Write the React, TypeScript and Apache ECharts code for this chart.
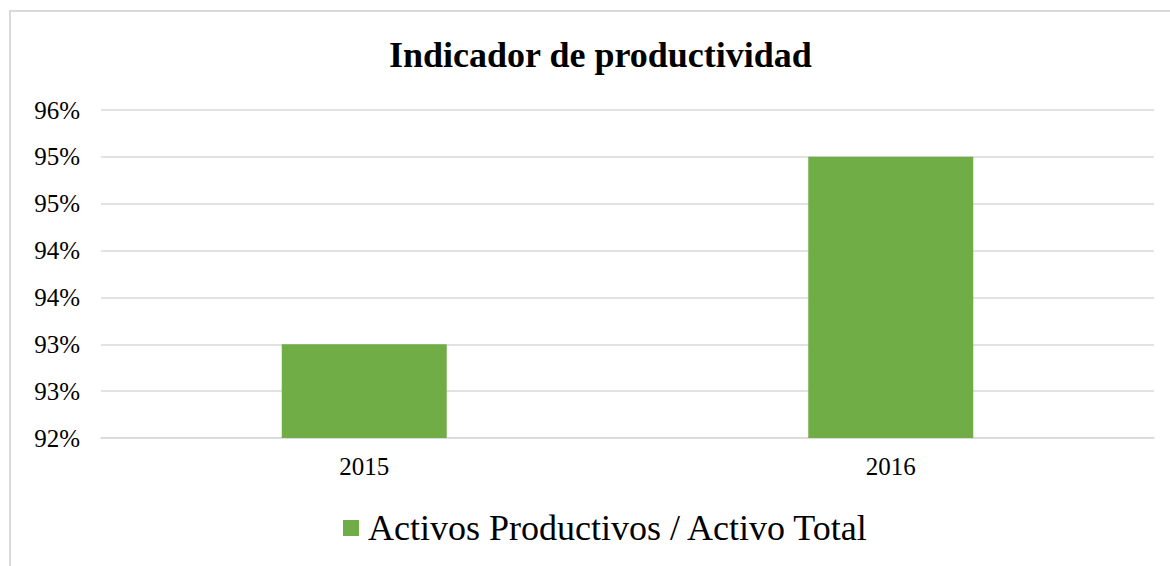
import React, { useEffect, useRef } from "react";
import * as echarts from "echarts";

const categories = ["2015", "2016"];
const seriesName = "Activos Productivos / Activo Total";
const values = [93.0, 95.0];
const yMin = 92;
const yMax = 95.5;
const yInterval = 0.5;
const title = "Indicador de productividad";

export default function App() {
  const ref = useRef<HTMLDivElement>(null);
  useEffect(() => {
    if (!ref.current) return;
    const chart = echarts.init(ref.current, null, { renderer: "svg" });
    const serif = "'Liberation Serif', 'Times New Roman', serif";
    chart.setOption({
      animation: false,
      backgroundColor: "#ffffff",
      title: {
        text: title,
        left: 384,
        top: 32,
        textStyle: { fontFamily: serif, fontWeight: "bold", fontSize: 36, color: "#000" },
      },
      graphic: [
        {
          type: "rect",
          shape: { x: 10, y: 11, width: 1200, height: 600 },
          style: { fill: "none", stroke: "#d9d9d9", lineWidth: 2 },
          silent: true,
        },
      ],
      grid: { left: 101, right: 16, top: 110, bottom: 128 },
      legend: {
        data: [seriesName],
        top: 505,
        left: 338,
        icon: "rect",
        itemWidth: 16,
        itemHeight: 16,
        itemGap: 8,
        textStyle: { fontFamily: serif, fontSize: 36, color: "#000", padding: [0, 0, 0, 4] },
      },
      xAxis: {
        type: "category",
        data: categories,
        axisTick: { show: false },
        axisLine: { show: true, lineStyle: { color: "#d9d9d9", width: 1.5 } },
        axisLabel: { fontFamily: serif, fontSize: 25, color: "#000", margin: 16 },
      },
      yAxis: {
        type: "value",
        min: yMin,
        max: yMax,
        interval: yInterval,
        axisLine: { show: false },
        axisTick: { show: false },
        splitLine: { lineStyle: { color: "#d9d9d9", width: 1.5 } },
        axisLabel: {
          fontFamily: serif,
          fontSize: 25,
          color: "#000",
          margin: 21,
          formatter: (v: number) => Math.round(v) + "%",
        },
      },
      series: [
        {
          name: seriesName,
          type: "bar",
          data: values,
          barWidth: 165,
          itemStyle: { color: "#70AD47" },
        },
      ],
    });
    return () => chart.dispose();
  }, []);
  return (
    <div
      ref={ref}
      style={{ position: "fixed", left: 0, top: 0, width: 1170, height: 566 }}
    />
  );
}
